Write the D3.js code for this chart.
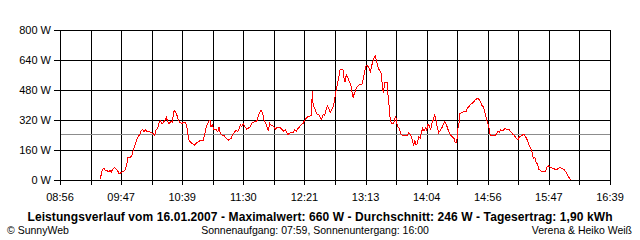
<!DOCTYPE html>
<html>
<head>
<meta charset="utf-8">
<script src="https://cdn.jsdelivr.net/npm/d3@7"></script>
<style>
  body { margin: 0; background: #fff; }
  svg { display: block; font-family: "Liberation Sans", Arial, sans-serif; }
</style>
</head>
<body>
<div id="vis"></div>
<script>
// minutes since midnight
const times = [
  569.9,571.6,572.8,574.1,575.6,577.0,578.1,579.2,580.0,581.5,
  582.9,584.2,585.9,587.1,588.8,590.5,591.6,592.4,593.2,594.9,
  596.4,597.2,598.3,599.4,600.6,601.7,603.1,604.4,605.3,606.7,
  608.1,609.5,611.5,612.9,614.3,615.7,616.8,618.2,619.3,620.4,
  621.9,623.0,624.4,625.5,626.7,627.8,629.2,630.5,631.7,632.6,
  633.9,634.7,635.6,637.0,638.1,640.1,641.8,642.9,643.5,644.6,
  646.3,648.2,649.1,651.1,653.0,654.7,656.6,658.1,659.2,660.3,
  661.4,662.5,663.1,664.2,665.4,667.1,668.8,669.9,670.9,672.6,
  674.3,676.0,677.7,680.0,681.0,682.7,684.2,685.6,686.7,687.8,
  689.0,690.3,691.7,693.2,694.5,696.2,697.9,700.2,701.8,703.5,
  705.2,706.6,707.7,709.2,710.3,711.4,712.5,713.6,715.6,717.6,
  718.7,721.2,722.6,724.3,725.7,727.1,727.9,729.0,730.7,732.1,
  733.6,734.9,736.4,737.8,739.1,740.6,741.7,743.1,744.5,745.9,
  747.6,748.4,749.0,749.8,750.9,752.4,753.8,755.1,756.3,757.7,
  758.8,759.9,761.0,762.2,763.5,765.0,766.4,767.3,768.3,769.4,
  770.6,771.7,772.8,774.2,775.1,775.9,777.0,778.2,779.5,780.7,
  781.8,782.7,783.8,784.9,786.3,788.0,790.2,791.3,792.5,793.6,
  794.7,796.4,797.2,798.7,800.1,801.4,802.9,804.3,805.6,806.5,
  807.1,808.2,809.3,811.5,812.1,813.0,813.8,814.9,816.6,817.8,
  818.6,820.0,821.4,822.8,824.2,826.2,828.4,829.5,830.6,831.7,
  832.9,833.8,834.6,835.7,836.8,838.0,839.1,840.2,841.3,842.4,
  843.9,844.7,845.8,846.9,848.1,849.2,850.2,851.4,852.5,853.6,
  854.8,856.5,858.2,859.8,861.2,862.6,864.3,866.0,867.7,868.8,
  870.0,870.8,871.9,872.7,874.4,875.5,877.8,878.9,880.3,881.7,
  883.7,885.9,887.9,889.6,891.0,892.3,893.5,894.6,895.7,896.9,
  898.0,899.1,900.8,901.9,903.3,904.7,905.8,907.0,908.7,910.4,
  912.5,914.2,915.4,917.1,918.8,919.9,921.6,922.7,924.3,925.5,
  926.6,928.0,929.4,930.8,932.2,933.6,934.4,935.6,936.7,937.8,
  939.2,940.7,942.3,944.5,946.2,947.4,949.1,950.8,953.0,954.6,
  956.9,958.6,960.3,961.7,963.1,964.5,965.9
];
// power in W
const watts = [
  4,57,62,53,50,44,50,43,53,66,
  62,53,32,39,44,50,68,92,119,121,
  128,151,169,192,213,231,240,263,270,258,
  267,258,258,252,249,240,267,276,302,316,
  299,306,320,334,311,302,311,309,364,370,
  352,341,320,306,302,306,309,276,249,213,
  199,192,185,199,206,213,213,249,284,302,
  316,316,284,293,270,270,258,281,249,240,
  235,222,213,222,240,252,267,258,270,293,
  284,302,284,270,276,284,306,311,316,352,
  373,356,320,302,284,263,302,293,288,270,
  281,281,270,261,267,249,240,249,254,252,
  267,261,276,284,297,302,315,329,338,341,
  343,475,409,391,373,350,350,332,325,350,
  343,373,396,382,361,379,400,436,475,507,
  546,587,587,587,542,521,560,551,524,510,
  471,439,462,480,498,507,510,542,581,610,
  610,596,578,617,649,660,622,592,578,569,
  519,462,519,519,453,400,338,299,299,324,
  341,288,276,249,238,238,238,252,245,231,
  204,181,213,185,196,231,222,252,276,263,
  281,263,299,288,270,306,320,352,320,281,
  252,267,288,311,297,270,245,231,222,199,
  199,267,302,356,359,364,364,382,391,405,
  412,430,436,423,400,391,364,338,311,288,
  245,235,240,235,245,263,252,267,263,274,
  270,267,258,245,235,222,217,231,235,240,
  245,231,213,187,169,146,116,121,98,85,
  57,50,43,43,71,75,68,62,57,57,
  68,60,57,44,27,14,0
];

const average = 246;
const yTicks = [0, 160, 320, 480, 640, 800];
const yLabels = ["0 W", "160 W", "320 W", "480 W", "640 W", "800 W"];
const xStart = 536, xEnd = 999; // 08:56 .. 16:39
const xLabels = ["08:56", "09:47", "10:39", "11:30", "12:21", "13:13", "14:04", "14:56", "15:47", "16:39"];
const title = "Leistungsverlauf vom 16.01.2007 - Maximalwert: 660 W - Durchschnitt: 246 W - Tagesertrag: 1,90 kWh";
const footLeft = "\u00A9 SunnyWeb";
const footMid = "Sonnenaufgang: 07:59, Sonnenuntergang: 16:00";
const footRight = "Verena & Heiko Wei\u00DF";

const W = 640, H = 240;
const margin = { top: 30, right: 30, bottom: 60, left: 60 };

const svg = d3.select("#vis").append("svg")
    .attr("width", W).attr("height", H);
svg.append("rect").attr("width", W).attr("height", H).attr("fill", "#fff");

const x = d3.scaleLinear().domain([xStart, xEnd]).range([margin.left, W - margin.right]);
const y = d3.scaleLinear().domain([0, 800]).range([H - margin.bottom, margin.top]);

// vertical grid: 18 divisions, label on every second one
const xGrid = d3.range(19).map(i => xStart + i * (xEnd - xStart) / 18);

const grid = svg.append("g").attr("shape-rendering", "crispEdges");
grid.selectAll("line.v").data(xGrid).enter().append("line")
    .attr("x1", d => Math.round(x(d)) + 0.5).attr("x2", d => Math.round(x(d)) + 0.5)
    .attr("y1", y(800)).attr("y2", y(0) + 5)
    .attr("stroke", "#000");
grid.selectAll("line.h").data(yTicks).enter().append("line")
    .attr("x1", x(xStart) - 6).attr("x2", x(xEnd) + 1)
    .attr("y1", d => Math.round(y(d)) + 0.5).attr("y2", d => Math.round(y(d)) + 0.5)
    .attr("stroke", "#000");

// average line
svg.append("line")
    .attr("shape-rendering", "crispEdges")
    .attr("x1", x(xStart) + 1).attr("x2", x(xEnd))
    .attr("y1", Math.round(y(average)) + 0.5).attr("y2", Math.round(y(average)) + 0.5)
    .attr("stroke", "#8c8c8c");

// y labels
svg.append("g").selectAll("text").data(yTicks).enter().append("text")
    .attr("x", 51).attr("y", d => y(d) + 4)
    .attr("text-anchor", "end")
    .attr("font-size", 11)
    .text((d, i) => yLabels[i]);

// x labels
svg.append("g").selectAll("text").data(xLabels).enter().append("text")
    .attr("x", (d, i) => x(xGrid[i * 2]))
    .attr("y", 201)
    .attr("text-anchor", "middle")
    .attr("font-size", 11)
    .text(d => d);

// power line
const line = d3.line()
    .x(d => x(d[0]))
    .y(d => y(d[1]));
svg.append("path")
    .datum(d3.zip(times, watts))
    .attr("fill", "none")
    .attr("stroke", "#ff0000")
    .attr("stroke-width", 1)
    .attr("shape-rendering", "crispEdges")
    .attr("d", line);

// texts below
svg.append("text")
    .attr("x", 320).attr("y", 221)
    .attr("text-anchor", "middle")
    .attr("font-size", 12).attr("font-weight", "bold")
    .attr("textLength", 585).attr("lengthAdjust", "spacing")
    .text(title);
svg.append("text").attr("x", 7).attr("y", 234).attr("font-size", 10.5).text(footLeft);
svg.append("text").attr("x", 315).attr("y", 234).attr("text-anchor", "middle").attr("font-size", 10.5).text(footMid);
svg.append("text").attr("x", 632).attr("y", 234).attr("text-anchor", "end").attr("font-size", 10.5).text(footRight);
</script>
</body>
</html>
